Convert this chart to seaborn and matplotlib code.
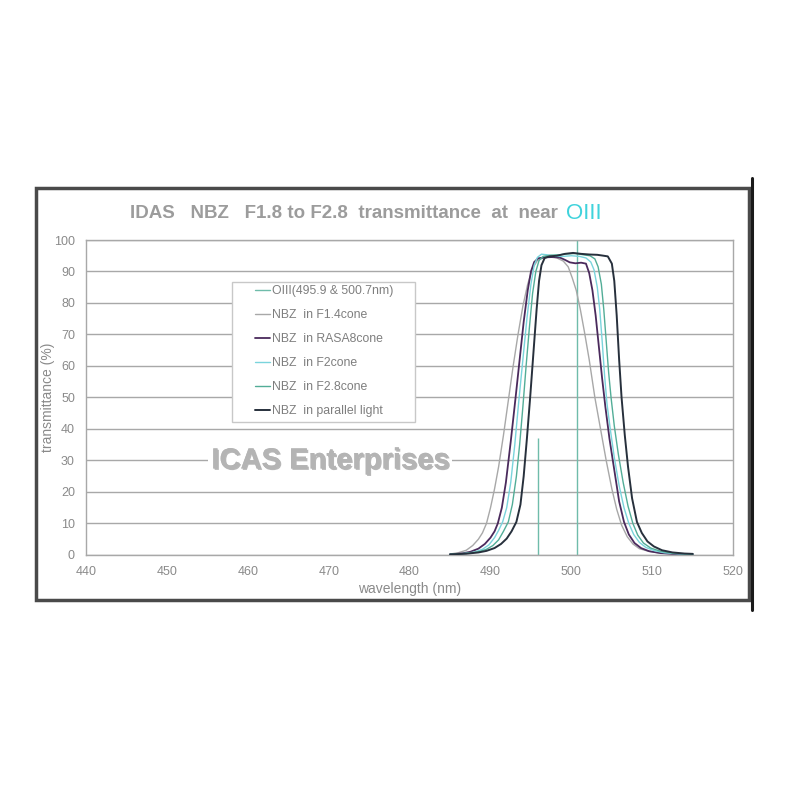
import matplotlib
matplotlib.use("Agg")
import matplotlib.pyplot as plt
import matplotlib.patheffects as pe
from matplotlib import font_manager
from matplotlib.lines import Line2D
from matplotlib.patches import Rectangle
import pandas as pd
import seaborn as sns

# ---- data ----
oiii_wl = [495.9, 500.7]
oiii_t = [37, 100]

f14_wl = [485.0, 486.0, 487.0, 487.8, 488.5, 489.0, 489.5, 490.0, 490.5, 491.0, 491.6,
          492.2, 492.8, 493.4, 494.0, 494.6, 495.2, 495.8, 496.5, 497.3, 498.2, 499.0,
          499.6, 500.1, 500.6, 501.1, 501.6, 502.2, 502.9, 503.6, 504.3, 505.0, 505.6,
          506.2, 506.9, 507.6, 508.4, 509.5, 511.0, 513.0, 515.0]
f14_t = [0.3, 0.7, 1.5, 3.0, 5.0, 7.0, 10, 15, 21, 28, 38,
         49, 60, 70, 79, 86, 91, 93.5, 94.3, 94.6, 94.3, 93.3,
         91.5, 88, 84, 78, 71, 62, 50, 40, 30, 21, 14.5,
         9.5, 5.8, 3.5, 2.0, 1.2, 0.6, 0.3, 0.2]

rasa_wl = [485.0, 486.5, 487.5, 488.5, 489.3, 490.0, 490.5, 490.9, 491.4, 491.9, 492.5,
           493.1, 493.6, 494.1, 494.6, 495.0, 495.4, 495.9, 496.8, 497.8, 498.6, 499.2,
           499.8, 500.5, 501.2, 501.8, 502.2, 502.6, 503.0, 503.4, 503.8, 504.2, 504.7,
           505.3, 505.9, 506.5, 507.1, 507.8, 508.6, 509.6, 511.0, 513.0, 515.0]
rasa_t = [0.2, 0.5, 1.0, 2.0, 3.5, 5.5, 7.5, 10, 15, 23, 36,
          50, 62, 74, 84, 90, 93, 94.2, 94.5, 94.6, 94.4, 93.7,
          92.9, 92.6, 92.8, 92.5, 89.5, 84, 76, 66, 56, 47, 37,
          27, 17, 10.5, 6.5, 3.8, 2.2, 1.2, 0.6, 0.3, 0.2]

f2_wl = [485.0, 486.5, 488.0, 489.0, 489.8, 490.5, 491.0, 491.5, 492.0, 492.5, 493.0,
         493.5, 494.0, 494.5, 495.0, 495.4, 495.8, 496.3, 497.0, 498.0, 499.0, 500.0,
         501.0, 501.8, 502.4, 502.8, 503.2, 503.5, 503.8, 504.1, 504.4, 504.8, 505.3,
         505.9, 506.5, 507.1, 507.7, 508.4, 509.2, 510.2, 511.5, 513.0, 515.0]
f2_t = [0.2, 0.4, 0.9, 1.8, 3.2, 5.5, 7.8, 10.5, 15, 23, 35,
        49, 62, 75, 86, 92, 94.5, 95.5, 95.3, 94.8, 94.8, 95.0,
        94.8, 94.3, 93, 90.5, 85, 78, 68, 57, 48, 40, 31,
        22, 15, 10, 6.5, 4.0, 2.4, 1.4, 0.7, 0.4, 0.2]

f28_wl = [485.0, 487.0, 488.5, 489.5, 490.3, 491.0, 491.6, 492.2, 492.7, 493.2, 493.6,
          494.0, 494.4, 494.8, 495.2, 495.6, 496.0, 496.5, 497.5, 498.5, 499.5, 500.5,
          501.5, 502.3, 502.9, 503.3, 503.7, 504.0, 504.3, 504.6, 504.9, 505.3, 505.8,
          506.4, 507.0, 507.6, 508.2, 508.9, 509.8, 511.0, 512.5, 514.0, 515.0]
f28_t = [0.2, 0.5, 1.0, 1.8, 3.0, 4.8, 7.5, 10.5, 16, 25, 35,
         47, 60, 72, 83, 90, 93.5, 94.8, 95.2, 95.3, 95.6, 95.7,
         95.3, 95.0, 94.0, 91.5, 86, 78, 68, 58, 50, 41, 32,
         23, 15.5, 10, 6.3, 3.8, 2.2, 1.2, 0.6, 0.35, 0.25]

par_wl = [485.0, 487.0, 488.5, 489.5, 490.5, 491.3, 492.0, 492.6, 493.2, 493.7, 494.1,
          494.5, 494.9, 495.3, 495.7, 496.0, 496.3, 496.7, 497.3, 498.2, 499.2, 500.2,
          501.2, 502.2, 503.2, 504.0, 504.5, 505.0, 505.3, 505.6, 505.9, 506.2, 506.6,
          507.0, 507.5, 508.1, 508.7, 509.4, 510.2, 511.2, 512.5, 514.0, 515.0]
par_t = [0.2, 0.4, 0.8, 1.3, 2.2, 3.5, 5.2, 7.5, 10.5, 16, 25,
         37, 50, 64, 78, 87, 92, 94.3, 94.8, 95.0, 95.6, 95.9,
         95.6, 95.4, 95.3, 95.0, 94.8, 92.5, 87, 76, 62, 50, 38,
         28, 18, 10.5, 7.0, 4.3, 2.7, 1.5, 0.8, 0.45, 0.35]

series_names = ["NBZ  in F1.4cone", "NBZ  in RASA8cone", "NBZ  in F2cone",
                "NBZ  in F2.8cone", "NBZ  in parallel light"]
series_wl = [f14_wl, rasa_wl, f2_wl, f28_wl, par_wl]
series_t = [f14_t, rasa_t, f2_t, f28_t, par_t]
oiii_label = "OIII(495.9 & 500.7nm)"

colors = {
    "NBZ  in F1.4cone": "#a8a8a8",
    "NBZ  in RASA8cone": "#4a2a5c",
    "NBZ  in F2cone": "#7ad4dc",
    "NBZ  in F2.8cone": "#52ad97",
    "NBZ  in parallel light": "#27303c",
}
widths = {
    "NBZ  in F1.4cone": 1.0,
    "NBZ  in RASA8cone": 1.3,
    "NBZ  in F2cone": 1.0,
    "NBZ  in F2.8cone": 1.0,
    "NBZ  in parallel light": 1.4,
}
oiii_color = "#6fbcaa"

frames = []
for name, wl, t in zip(series_names, series_wl, series_t):
    frames.append(pd.DataFrame({"wavelength": wl, "transmittance": t, "series": name}))
df = pd.concat(frames, ignore_index=True)

sns.set_theme(style="white")
plt.rcParams["font.family"] = ["Liberation Sans", "DejaVu Sans"]

installed = {f.name for f in font_manager.fontManager.ttflist}
narrow = "Liberation Sans Narrow" if "Liberation Sans Narrow" in installed else "Liberation Sans"
title_size = 15 if narrow == "Liberation Sans Narrow" else 13.5

fig = plt.figure(figsize=(7.9, 7.9), dpi=100)
ax = fig.add_axes([0.1089, 0.2975, 0.8192, 0.3987])

for name in series_names:
    sub = df[df["series"] == name]
    sns.lineplot(data=sub, x="wavelength", y="transmittance", ax=ax,
                 color=colors[name], lw=widths[name], estimator=None, sort=False,
                 legend=False, zorder=3)

ax.vlines(oiii_wl, 0, oiii_t, color=oiii_color, lw=1.0, zorder=2)

ax.set_xlim(440, 520)
ax.set_ylim(0, 100)
ax.set_xticks(range(440, 521, 10))
ax.set_yticks(range(0, 101, 10))
ax.yaxis.grid(True, color="#a8a8a8", lw=1.0)
ax.xaxis.grid(False)
ax.set_axisbelow(True)
for s in ax.spines.values():
    s.set_color("#a8a8a8")
    s.set_linewidth(1.0)
ax.tick_params(axis="both", colors="#a8a8a8", labelcolor="#8a8a8a", labelsize=9,
               length=4, width=1, direction="out", pad=4)
ax.set_xlabel("wavelength (nm)", color="#8a8a8a", fontsize=10, labelpad=3)
ax.set_ylabel("transmittance (%)", color="#8a8a8a", fontsize=10, labelpad=-1)

# legend box drawn in data space, entries placed inside it
ax.add_patch(Rectangle((458.0, 42.3), 22.7, 44.4, facecolor="white",
                       edgecolor="#c8c8c8", lw=1.0, zorder=4))
handles = [Line2D([], [], color=oiii_color, lw=1.0)]
handles += [Line2D([], [], color=colors[n], lw=widths[n]) for n in series_names]
labels = [oiii_label] + series_names
leg = ax.legend(handles, labels, loc="upper left", bbox_to_anchor=(460.9, 85.6),
                bbox_transform=ax.transData, borderaxespad=0, borderpad=0,
                frameon=False, fontsize=8.8, labelspacing=0.98, handlelength=1.2,
                handletextpad=0.15, labelcolor="#7e7e7e")
leg.set_zorder(5)

# watermark sitting on the 30 % grid line
ax.text(470.2, 30, "ICAS Enterprises", ha="center", va="center", fontsize=21,
        fontweight="bold", color="#b4b4b4", zorder=4,
        bbox=dict(facecolor="white", edgecolor="none", pad=2),
        path_effects=[pe.withSimplePatchShadow(offset=(1, -1), shadow_rgbFace="#888888",
                                               alpha=0.6), pe.Normal()])

# title
fig.text(0.706, 0.730, "IDAS   NBZ   F1.8 to F2.8  transmittance  at  near",
         ha="right", va="center", fontsize=title_size, fontweight="bold",
         color="#9c9c9c", family=[narrow, "DejaVu Sans"])
fig.text(0.716, 0.730, "OIII", ha="left", va="center", fontsize=16,
         color="#3fd3dc", family=["Liberation Sans", "DejaVu Sans"])

# outer frame
fig.patches.append(Rectangle((36 / 790, 1 - 600 / 790), (749 - 36) / 790, (600 - 188) / 790,
                             transform=fig.transFigure, fill=False,
                             edgecolor="#4a4a4a", lw=2.5))
fig.lines.append(Line2D([752 / 790, 752 / 790], [1 - 610 / 790, 1 - 178 / 790],
                        transform=fig.transFigure, color="#1a1a1a", lw=2.2))

fig.savefig("out.png", dpi=100, facecolor="white")
